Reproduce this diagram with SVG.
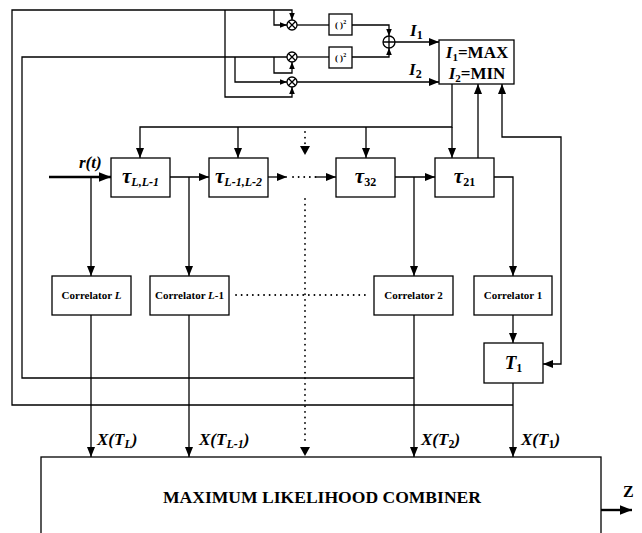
<svg xmlns="http://www.w3.org/2000/svg" width="642" height="533" viewBox="0 0 642 533">
<defs>
<marker id="ah" markerUnits="userSpaceOnUse" markerWidth="10" markerHeight="10" viewBox="0 0 10 10" refX="10" refY="5" orient="auto-start-reverse"><path d="M0,1 L10,5 L0,9 z" fill="#000"/></marker>
<marker id="ahs" markerUnits="userSpaceOnUse" markerWidth="7" markerHeight="7" viewBox="0 0 10 10" refX="10" refY="5" orient="auto-start-reverse"><path d="M0,1 L10,5 L0,9 z" fill="#000"/></marker>
<marker id="ahb" markerUnits="userSpaceOnUse" markerWidth="12" markerHeight="12" viewBox="0 0 10 10" refX="10" refY="5" orient="auto"><path d="M0,1 L10,5 L0,9 z" fill="#000"/></marker>
</defs>
<style>
.l{fill:none;stroke:#000;stroke-width:1.3}
.box{fill:#fff;stroke:#000;stroke-width:1.3}
.dot{fill:none;stroke:#000;stroke-width:1.8;stroke-dasharray:0.1 5.5;stroke-linecap:round}
text{font-family:"Liberation Serif","Times New Roman",serif;font-weight:bold;fill:#000}
.it{font-style:italic}
.tau{font-size:21px;font-style:italic}
.sub{font-size:12px}
.cor{font-size:11px}
.lab{font-size:17px;font-style:italic}
</style>
<g id="connectors">
<path class="l" d="M513,405 H12 V10 H292 V20" marker-end="url(#ahs)"/>
<path class="l" d="M274,10 V25 H287" marker-end="url(#ahs)"/>
<path class="l" d="M225,10 V97 H292 V87" marker-end="url(#ahs)"/>
<path class="l" d="M414,378 H22 V57 H287"/>
<path class="l" d="M274,57 V73 H292 V62" marker-end="url(#ahs)"/>
<path class="l" d="M235,57 V82 H287" marker-end="url(#ahs)"/>
<path class="l" d="M297,25 H329"/>
<path class="l" d="M297,57 H329"/>
<path class="l" d="M297,82 H439" marker-end="url(#ah)"/>
<path class="l" d="M352,25 H389 V36" marker-end="url(#ahs)"/>
<path class="l" d="M352,57 H389 V48" marker-end="url(#ahs)"/>
<path class="l" d="M395,42 H439" marker-end="url(#ah)"/>
<path class="l" d="M452,84 V127 H140 V158" marker-end="url(#ah)"/>
<path class="l" d="M238,127 V158" marker-end="url(#ah)"/>
<path class="l" d="M366,127 V158" marker-end="url(#ah)"/>
<path class="l" d="M452,127 V158" marker-end="url(#ah)"/>
<path class="l" d="M478,158 V84" marker-end="url(#ah)"/>
<path class="l" d="M502,84 V137 H561 V364 H543" marker-start="url(#ah)" marker-end="url(#ah)"/>
<path fill="none" stroke="#000" stroke-width="2.6" d="M49,177 H111" marker-end="url(#ahb)"/>
<path class="l" d="M91,177 V276" marker-end="url(#ah)"/>
<path class="l" d="M170,177 H209" marker-end="url(#ah)"/>
<path class="l" d="M189,177 V276" marker-end="url(#ah)"/>
<path class="l" d="M268,177 H287" marker-end="url(#ah)"/>
<path class="dot" d="M293,177 H316"/>
<path class="l" d="M316,177 H336" marker-end="url(#ah)"/>
<path class="l" d="M395,177 H435" marker-end="url(#ah)"/>
<path class="l" d="M414,177 V276" marker-end="url(#ah)"/>
<path class="l" d="M494,177 H513 V276" marker-end="url(#ah)"/>
<path class="l" d="M91,315 V457" marker-end="url(#ah)"/>
<path class="l" d="M189,315 V457" marker-end="url(#ah)"/>
<path class="l" d="M414,315 V457" marker-end="url(#ah)"/>
<path class="l" d="M513,315 V343" marker-end="url(#ah)"/>
<path class="l" d="M513,383 V457" marker-end="url(#ah)"/>
<path class="dot" d="M305,132 V144"/>
<path d="M300,146 H310 L305,155 z" fill="#000"/>
<path class="dot" d="M305,199 V443"/>
<path d="M300,447 H310 L305,456 z" fill="#000"/>
<path class="dot" d="M236,295 H370"/>
<path fill="none" stroke="#000" stroke-width="2.4" d="M601,510 H632" marker-end="url(#ahb)"/>
</g>
<g id="mul1"><circle class="box" cx="292" cy="25" r="5"/><path class="l" d="M288.5,21.5 L295.5,28.5 M295.5,21.5 L288.5,28.5"/></g>
<g id="mul2"><circle class="box" cx="292" cy="57" r="5"/><path class="l" d="M288.5,53.5 L295.5,60.5 M295.5,53.5 L288.5,60.5"/></g>
<g id="mul3"><circle class="box" cx="292" cy="82" r="5"/><path class="l" d="M288.5,78.5 L295.5,85.5 M295.5,78.5 L288.5,85.5"/></g>
<g id="sq1"><rect class="box" x="329" y="14" width="23" height="21"/><text x="340.5" y="28" font-size="9" text-anchor="middle">( )<tspan font-size="6" dy="-4">2</tspan></text></g>
<g id="sq2"><rect class="box" x="329" y="47" width="23" height="21"/><text x="340.5" y="61" font-size="9" text-anchor="middle">( )<tspan font-size="6" dy="-4">2</tspan></text></g>
<g id="adder"><circle class="box" cx="389" cy="42" r="6"/><path class="l" d="M383,42 H395 M389,36 V48"/></g>
<g id="labels">
<text x="410" y="36" class="lab">I<tspan class="sub" dy="3" font-style="normal">1</tspan></text>
<text x="409" y="75" class="lab">I<tspan class="sub" dy="3" font-style="normal">2</tspan></text>
<text x="79" y="168" font-size="17" class="it">r(t)</text>
<text x="97" y="445" class="lab">X(T<tspan class="sub" dy="3">L</tspan><tspan dy="-3">)</tspan></text>
<text x="199" y="445" class="lab">X(T<tspan class="sub" dy="3">L-1</tspan><tspan dy="-3">)</tspan></text>
<text x="421" y="445" class="lab">X(T<tspan class="sub" dy="3" font-style="normal">2</tspan><tspan dy="-3">)</tspan></text>
<text x="521" y="445" class="lab">X(T<tspan class="sub" dy="3" font-style="normal">1</tspan><tspan dy="-3">)</tspan></text>
<text x="623" y="497" font-size="16">Z</text>
</g>
<g id="maxmin"><rect class="box" x="439" y="40" width="75" height="44"/>
<text x="477" y="58" font-size="17" text-anchor="middle"><tspan font-style="italic">I</tspan><tspan font-size="11" dy="3">1</tspan><tspan dy="-3">=MAX</tspan></text>
<text x="477" y="79" font-size="17" text-anchor="middle"><tspan font-style="italic">I</tspan><tspan font-size="11" dy="3">2</tspan><tspan dy="-3">=MIN</tspan></text></g>
<g id="tauLL1"><rect class="box" x="111" y="158" width="59" height="39"/><text x="140.5" y="183" text-anchor="middle" class="tau">τ<tspan class="sub" dy="3">L,L-1</tspan></text></g>
<g id="tauL1L2"><rect class="box" x="209" y="158" width="59" height="39"/><text x="238.5" y="183" text-anchor="middle" class="tau">τ<tspan class="sub" dy="3">L-1,L-2</tspan></text></g>
<g id="tau32"><rect class="box" x="336" y="158" width="59" height="39"/><text x="365.5" y="183" text-anchor="middle" class="tau">τ<tspan class="sub" dy="3" font-style="normal">32</tspan></text></g>
<g id="tau21"><rect class="box" x="435" y="158" width="59" height="39"/><text x="464.5" y="183" text-anchor="middle" class="tau">τ<tspan class="sub" dy="3" font-style="normal">21</tspan></text></g>
<g id="corL"><rect class="box" x="52" y="276" width="79" height="39"/><text x="91.5" y="299" text-anchor="middle" class="cor">Correlator <tspan class="it">L</tspan></text></g>
<g id="corL1"><rect class="box" x="150" y="276" width="79" height="39"/><text x="189.5" y="299" text-anchor="middle" class="cor">Correlator <tspan class="it">L</tspan>-1</text></g>
<g id="cor2"><rect class="box" x="374" y="276" width="79" height="39"/><text x="413.5" y="299" text-anchor="middle" class="cor">Correlator 2</text></g>
<g id="cor1"><rect class="box" x="474" y="276" width="78" height="39"/><text x="513" y="299" text-anchor="middle" class="cor">Correlator 1</text></g>
<g id="T1"><rect class="box" x="484" y="343" width="59" height="40"/><text x="513.5" y="369" text-anchor="middle" font-size="19" class="it">T<tspan font-size="12" font-style="normal" dy="3">1</tspan></text></g>
<g id="combiner"><rect class="box" x="41" y="457" width="560" height="90"/><text x="322" y="503" text-anchor="middle" font-size="17" textLength="318" lengthAdjust="spacingAndGlyphs">MAXIMUM LIKELIHOOD COMBINER</text></g>
</svg>
